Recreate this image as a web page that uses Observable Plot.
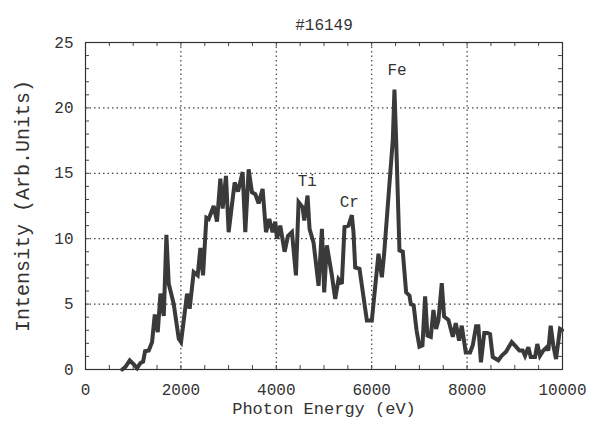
<!DOCTYPE html>
<html>
<head>
<meta charset="utf-8">
<script src="https://cdn.jsdelivr.net/npm/d3@7"></script>
<script src="https://cdn.jsdelivr.net/npm/@observablehq/plot@0.6"></script>
<style>
  html, body { margin: 0; padding: 0; background: #fff; }
  #chart { width: 603px; height: 428px; }
</style>
</head>
<body>
<div id="chart"></div>
<script>
const title = "#16149";
const xLabel = "Photon Energy (eV)";
const yLabel = "Intensity (Arb.Units)";

const energy = [770,838,928,1012,1082,1152,1208,1249,1327,1396,1452,1515,1571,1641,1696,1745,1850,1955,2003,2129,2184,2268,2352,2408,2464,2534,2583,2687,2757,2827,2875,2945,3001,3127,3197,3231,3294,3350,3420,3490,3560,3629,3713,3784,3853,3922,3979,4014,4083,4174,4244,4328,4412,4467,4551,4586,4655,4697,4781,4886,4956,5004,5060,5165,5235,5304,5374,5430,5514,5584,5618,5654,5744,5899,6003,6142,6213,6261,6443,6477,6512,6582,6652,6722,6792,6820,6880,6940,7001,7064,7120,7169,7239,7294,7350,7399,7469,7518,7608,7700,7763,7832,7888,7972,8062,8119,8188,8236,8290,8360,8425,8481,8537,8654,8724,8816,8935,9025,9095,9165,9214,9284,9334,9424,9472,9528,9598,9668,9703,9752,9807,9864,9947,9990];
const intensity = [0.0,0.2,0.7,0.4,0.1,0.5,0.6,1.4,1.45,2.1,4.2,2.85,5.8,4.1,10.3,6.55,5.0,2.35,2.1,5.8,4.65,7.45,7.2,9.3,7.2,11.6,11.5,12.5,11.3,14.6,12.3,14.8,10.5,14.3,13.6,14.1,15.1,10.5,15.3,13.55,13.4,12.7,13.8,10.5,11.5,10.5,11.3,10.0,11.0,9.0,10.2,10.5,7.2,12.8,12.4,11.4,13.3,10.75,9.7,6.4,10.75,5.9,9.5,7.2,5.4,6.9,6.55,10.9,11.0,11.8,10.5,7.8,7.7,3.75,3.75,8.85,7.05,8.85,17.6,21.4,17.6,9.1,9.0,5.9,5.65,5.0,4.9,3.0,1.75,1.85,5.6,2.6,2.5,4.55,3.1,3.75,6.6,4.05,3.8,2.5,3.55,2.2,3.35,1.3,1.3,1.85,3.3,3.3,0.55,2.8,2.8,2.7,0.95,0.7,1.05,1.35,2.1,1.75,1.45,1.45,1.05,1.7,0.95,0.95,1.95,1.05,1.45,1.7,1.45,3.35,1.85,0.8,3.1,3.0];

const xTicks = [0, 2000, 4000, 6000, 8000, 10000];
const yTicks = [0, 5, 10, 15, 20, 25];
const xGrid = [2000, 4000, 6000, 8000];
const yGrid = [5, 10, 15, 20];
const xMinor = d3.range(0, 10001, 500);
const yMinor = d3.range(0, 25.01, 1);

const peakNames = ["Ti", "Cr", "Fe"];
const peakX = [4650, 5530, 6530];
const peakY = [14.4, 12.8, 22.9];

const series = energy.map((e, i) => ({e, v: intensity[i]}));
const peaks = peakNames.map((n, i) => ({n, x: peakX[i], y: peakY[i]}));

const W = 603, H = 428, mL = 85, mR = 41, mT = 42, mB = 59;
const fw = W - mL - mR, fh = H - mT - mB;
const font = "'Liberation Mono', 'DejaVu Sans Mono', monospace";

const chart = Plot.plot({
  width: W, height: H,
  marginLeft: mL, marginRight: mR, marginTop: mT, marginBottom: mB,
  style: {fontFamily: font, fontSize: "16px", color: "#333", background: "#fff"},
  x: {domain: [0, 10000]},
  y: {domain: [0, 25]},
  marks: [
    Plot.ruleX(xGrid, {stroke: "#444", strokeWidth: 1.2, strokeDasharray: "1.5,3"}),
    Plot.ruleY(yGrid, {stroke: "#444", strokeWidth: 1.2, strokeDasharray: "1.5,3"}),
    Plot.tickX(xMinor, {x: d => d, insetTop: fh - 4, stroke: "#444"}),
    Plot.tickX(xMinor, {x: d => d, insetBottom: fh - 4, stroke: "#444"}),
    Plot.tickY(yMinor, {y: d => d, insetRight: fw - 4, stroke: "#444"}),
    Plot.tickY(yMinor, {y: d => d, insetLeft: fw - 4, stroke: "#444"}),
    Plot.frame({stroke: "#333", strokeWidth: 1.2}),
    Plot.axisX(xTicks, {tickSize: 0, tickPadding: 14, label: null, tickFormat: d => String(d), fontSize: 16, fill: "#333"}),
    Plot.axisY(yTicks, {tickSize: 0, tickPadding: 12, label: null, fontSize: 16, fill: "#333"}),
    Plot.line(series, {x: "e", y: "v", stroke: "#3a3a3a", strokeWidth: 4, strokeLinejoin: "miter", strokeMiterlimit: 3}),
    Plot.text(peaks, {x: "x", y: "y", text: "n", fontSize: 16, fill: "#333"}),
    Plot.text([title], {frameAnchor: "top", dy: -24, fontSize: 16, fill: "#333"}),
    Plot.text([xLabel], {frameAnchor: "bottom", dy: 44, fontSize: 17, fill: "#333"}),
    Plot.text([yLabel], {frameAnchor: "left", textAnchor: "middle", dx: -63, rotate: -90, fontSize: 20, fill: "#333"})
  ]
});
document.getElementById("chart").appendChild(chart);
</script>
</body>
</html>
